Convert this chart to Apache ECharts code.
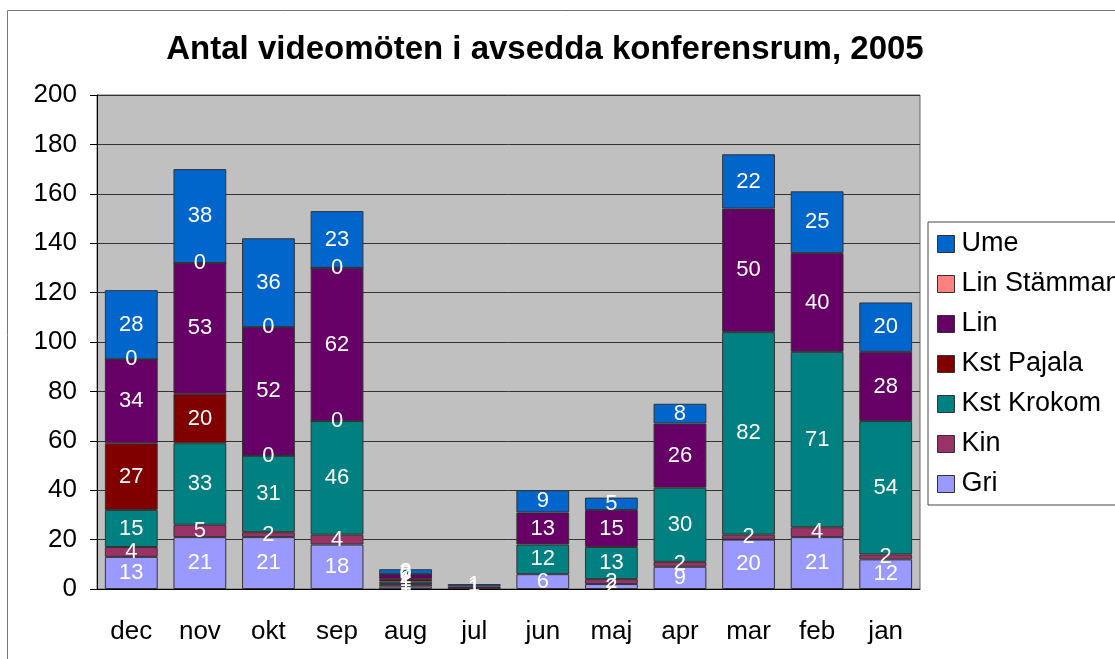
<!DOCTYPE html>
<html lang="sv">
<head>
<meta charset="utf-8">
<script src="https://cdn.jsdelivr.net/npm/echarts@6/dist/echarts.min.js"></script>
<style>
    html, body { margin: 0; padding: 0; background: #fff; }
    #main { width: 1115px; height: 659px; }
</style>
</head>
<body>
<div id="main"></div>
<script>
    // månader (höger till vänster i tiden)
    var months = ['dec', 'nov', 'okt', 'sep', 'aug', 'jul', 'jun', 'maj', 'apr', 'mar', 'feb', 'jan'];

    var gri        = [13, 21, 21, 18, 1, null, 6, 2, 9, 20, 21, 12];
    var kin        = [4, 5, 2, 4, 1, null, null, 2, 2, 2, 4, 2];
    var kstKrokom  = [15, 33, 31, 46, 1, null, 12, 13, 30, 82, 71, 54];
    var kstPajala  = [27, 20, 0, 0, 1, null, null, null, null, null, null, null];
    var lin        = [34, 53, 52, 62, 2, 1, 13, 15, 26, 50, 40, 28];
    var linStamman = [0, 0, 0, 0, 0, null, null, null, null, null, null, null];
    var ume        = [28, 38, 36, 23, 2, 1, 9, 5, 8, 22, 25, 20];

    var yTicks = [0, 20, 40, 60, 80, 100, 120, 140, 160, 180, 200];

    var font = 'Liberation Sans, Arial, sans-serif';

    function serie(name, data, color) {
        return {
            name: name,
            type: 'bar',
            stack: 'tot',
            barWidth: '77%',
            data: data,
            itemStyle: { color: color, borderColor: '#333', borderWidth: 1 },
            label: {
                show: true,
                position: 'inside',
                color: '#fff',
                fontFamily: font,
                fontSize: 22,
                formatter: function (p) { return p.value == null ? '' : p.value; }
            }
        };
    }

    var myChart = echarts.init(document.getElementById('main'));

    var option = {
        backgroundColor: '#fff',
        animation: false,
        graphic: [{
            type: 'rect',
            shape: { x: 7.5, y: 10.5, width: 1200, height: 700 },
            style: { fill: 'none', stroke: '#777', lineWidth: 1 },
            z: -10
        }],
        title: {
            text: 'Antal videomöten i avsedda konferensrum, 2005',
            left: 540,
            textAlign: 'center',
            top: 28,
            textStyle: { fontFamily: font, fontWeight: 'bold', fontSize: 33, color: '#000' }
        },
        legend: {
            orient: 'vertical',
            left: 928,
            top: 222,
            padding: [8, 40, 7, 9],
            itemWidth: 17,
            itemHeight: 17,
            itemGap: 12,
            borderColor: '#444',
            borderWidth: 1,
            backgroundColor: '#fff',
            icon: 'rect',
            itemStyle: { borderColor: '#333', borderWidth: 1 },
            textStyle: { fontFamily: font, fontSize: 27, color: '#000', lineHeight: 28, padding: [0, 0, 0, 2] },
            data: ['Ume', 'Lin Stämman', 'Lin', 'Kst Pajala', 'Kst Krokom', 'Kin', 'Gri']
        },
        grid: { left: 97, right: 195, top: 95, bottom: 70, backgroundColor: '#C0C0C0', show: true, borderColor: '#666', borderWidth: 1 },
        xAxis: {
            type: 'category',
            data: months,
            axisLine: { lineStyle: { color: '#000' } },
            axisTick: { length: 8, lineStyle: { color: '#000' } },
            axisLabel: { fontFamily: font, fontSize: 26, color: '#000', margin: 30 }
        },
        yAxis: {
            type: 'value',
            min: yTicks[0],
            max: yTicks[yTicks.length - 1],
            interval: 20,
            axisLine: { show: true, lineStyle: { color: '#000' } },
            axisTick: { show: true, length: 7, lineStyle: { color: '#000' } },
            axisLabel: { fontFamily: font, fontSize: 26, color: '#000', margin: 20 },
            splitLine: { lineStyle: { color: '#333' } }
        },
        series: [
            serie('Gri', gri, '#9999FF'),
            serie('Kin', kin, '#993366'),
            serie('Kst Krokom', kstKrokom, '#008080'),
            serie('Kst Pajala', kstPajala, '#800000'),
            serie('Lin', lin, '#660066'),
            serie('Lin Stämman', linStamman, '#FF8080'),
            serie('Ume', ume, '#0066CC')
        ]
    };

    myChart.setOption(option);
</script>
</body>
</html>
